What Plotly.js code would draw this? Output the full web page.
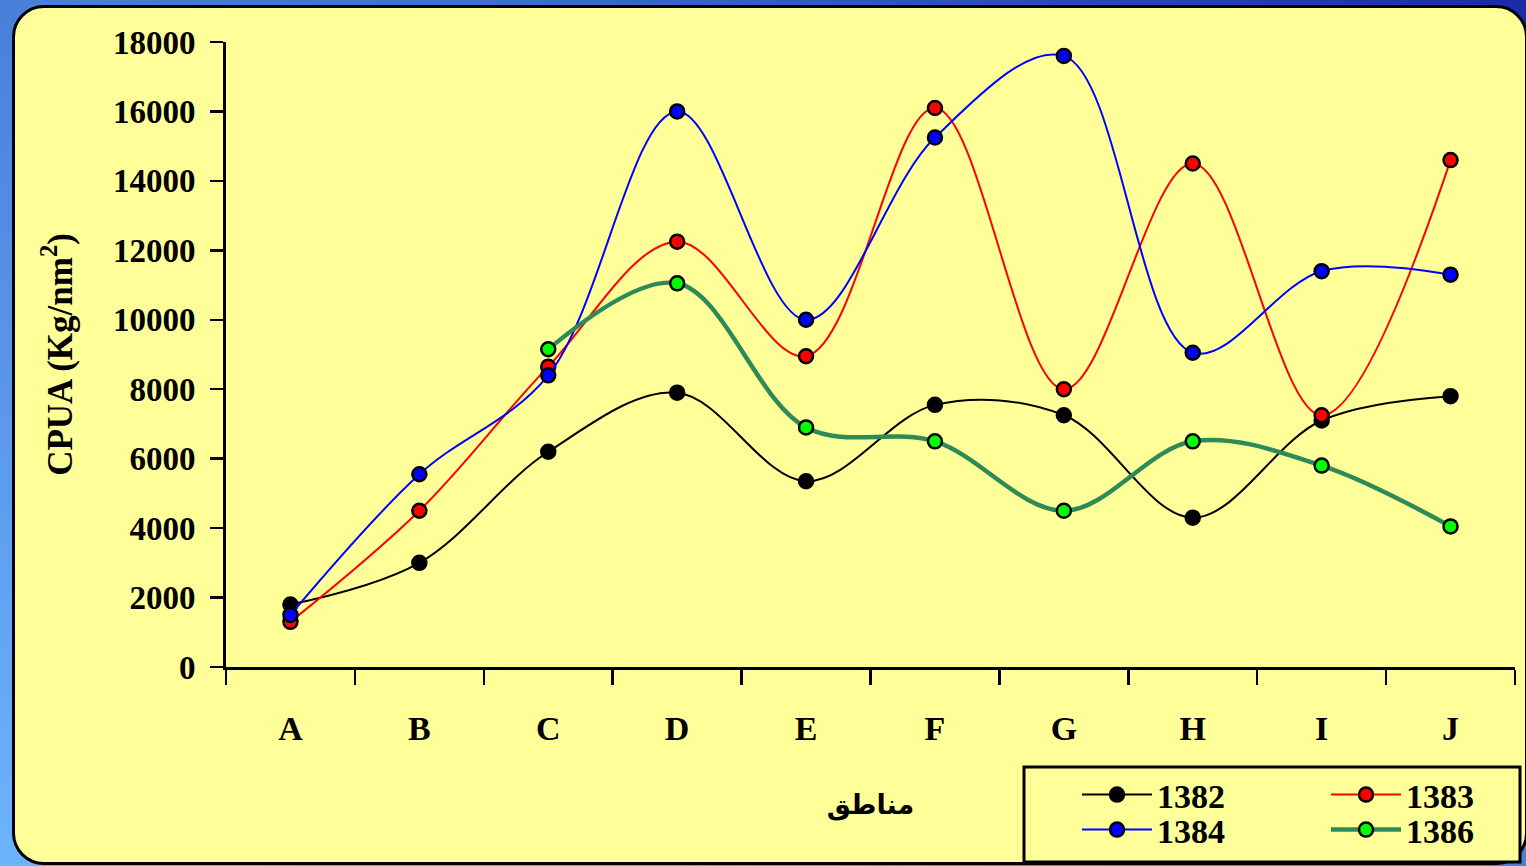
<!DOCTYPE html>
<html>
<head>
<meta charset="utf-8">
<script src="https://cdn.plot.ly/plotly-3.0.1.min.js"></script>
<style>
  html, body { margin:0; padding:0; width:1526px; height:866px; overflow:hidden; }
  body { background: linear-gradient(210deg, #1a2aa8 0%, #3f6fd0 35%, #6cb4fc 100%); position:relative; }
  #panel { position:absolute; left:12px; top:5px; width:1516px; height:860px; box-sizing:border-box;
           border:3px solid #000; border-radius:32px; background:#FFFF99; }
  #chart { position:absolute; left:0; top:0; width:1526px; height:866px; }
</style>
</head>
<body>
<div id="panel"></div>
<div id="chart"></div>
<script>
const categories = ['A','B','C','D','E','F','G','H','I','J'];
const s1382 = [1800, 3000, 6200, 7900, 5350, 7550, 7250, 4300, 7100, 7800];
const s1383 = [1300, 4500, 8650, 12250, 8950, 16100, 8000, 14500, 7250, 14600];
const s1384 = [1500, 5550, 8400, 16000, 10000, 15250, 17600, 9050, 11400, 11300];
const s1386 = [null, null, 9150, 11050, 6900, 6500, 4500, 6500, 5800, 4050];
const seriesNames = ['1382', '1383', '1384', '1386'];
const yTickVals = [0,2000,4000,6000,8000,10000,12000,14000,16000,18000];

const serif = 'Liberation Serif, Times New Roman, serif';

function mk(name, y, lineColor, lineWidth, fill, legendId) {
  return {
    type: 'scatter', mode: 'lines+markers', name: name,
    x: categories, y: y, connectgaps: false,
    line: { color: lineColor, width: lineWidth, shape: 'spline', smoothing: 1 },
    marker: { size: 14, color: fill, line: { color: '#000', width: 2.5 } },
    legend: legendId, hoverinfo: 'skip'
  };
}

const data = [
  mk(seriesNames[0], s1382, '#000000', 2, '#000000', 'legend'),
  mk(seriesNames[1], s1383, '#FF0000', 2, '#FF0000', 'legend2'),
  mk(seriesNames[2], s1384, '#0000FF', 2, '#0000FF', 'legend3'),
  mk(seriesNames[3], s1386, '#2E8B57', 4.5, '#00FF00', 'legend4')
];

const legFont = { family: serif, size: 34, color: '#000', weight: 'bold' };
function leg(x, y) {
  return { x: x, y: y, xanchor: 'left', yanchor: 'middle', xref: 'paper', yref: 'paper',
           bgcolor: 'rgba(0,0,0,0)', borderwidth: 0, font: legFont, itemwidth: 70 };
}
const W = 1289, H = 625;
function px(p) { return (p - 226) / W; }
function py(p) { return (667 - p) / H; }

const layout = {
  width: 1526, height: 866,
  paper_bgcolor: 'rgba(0,0,0,0)', plot_bgcolor: 'rgba(0,0,0,0)',
  margin: { l: 226, r: 11, t: 42, b: 199, autoexpand: false },
  showlegend: true,
  legend: leg(px(1077), py(795)),
  legend2: leg(px(1326), py(795)),
  legend3: leg(px(1077), py(830)),
  legend4: leg(px(1326), py(830)),
  xaxis: {
    type: 'category', categoryorder: 'array', categoryarray: categories,
    range: [-0.5, 9.5], tickson: 'boundaries',
    ticks: 'outside', ticklen: 15, tickwidth: 2.5, tickcolor: '#000',
    showline: true, linecolor: '#000', linewidth: 3, showgrid: false, zeroline: false,
    tickfont: { family: serif, size: 34, color: '#000', weight: 'bold' },
    ticklabelstandoff: 29,
    title: { text: 'مناطق', standoff: 50,
             font: { family: 'DejaVu Sans, sans-serif', size: 27, color: '#000', weight: 'bold' } }
  },
  yaxis: {
    range: [0, 18000], tickvals: yTickVals, ticktext: yTickVals.map(String),
    ticks: 'outside', ticklen: 13, tickwidth: 2.5, tickcolor: '#000',
    showline: true, linecolor: '#000', linewidth: 3, showgrid: false, zeroline: false,
    tickfont: { family: serif, size: 33, color: '#000', weight: 'bold' },
    ticklabelstandoff: 8,
    title: { text: 'CPUA (Kg/nm<sup>2</sup>)', standoff: 30,
             font: { family: serif, size: 35, color: '#000', weight: 'bold' } }
  },
  shapes: [{
    type: 'rect', xref: 'paper', yref: 'paper', layer: 'above',
    x0: px(1024), x1: px(1520), y0: py(862), y1: py(767),
    fillcolor: '#FFFF99', line: { color: '#000', width: 3 }
  }]
};

Plotly.newPlot('chart', data, layout, { displayModeBar: false, staticPlot: true });
</script>
</body>
</html>
